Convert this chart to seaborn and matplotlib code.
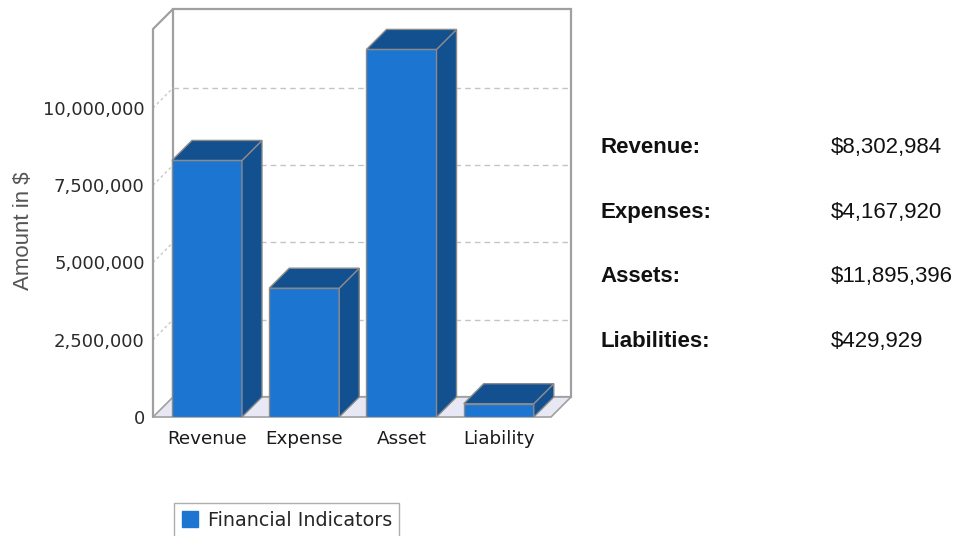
import matplotlib
matplotlib.use("Agg")
import matplotlib.pyplot as plt
import matplotlib.transforms as mtransforms
from matplotlib.patches import Polygon, Rectangle, Patch
from matplotlib.ticker import FuncFormatter
import seaborn as sns
import numpy as np

# data
categories = ["Revenue", "Expense", "Asset", "Liability"]
values = [8302984, 4167920, 11895396, 429929]
table_labels = ["Revenue:", "Expenses:", "Assets:", "Liabilities:"]
yticks = [0, 2500000, 5000000, 7500000, 10000000]
series_name = "Financial Indicators"

front = "#1c75d0"
dark = "#13508f"
edge = "#8a8a8a"
wall = "#a0a0a0"

sns.set_style("white")
plt.rcParams["font.family"] = ["DejaVu Sans"]

fig = plt.figure(figsize=(9.58, 5.36), dpi=100)
ax = fig.add_axes([153 / 958, (536 - 417) / 536, 398 / 958, 388 / 536])
ax.patch.set_visible(False)

sns.barplot(x=categories, y=values, color=front, saturation=1, width=0.72,
            edgecolor=edge, linewidth=1, ax=ax)
x0, x1 = -0.555, 3.537
ytop = 12.556e6
ax.set_xlim(x0, x1)
ax.set_ylim(0, ytop)
for s in ax.spines.values():
    s.set_visible(False)

# depth offset of 20 px
off = mtransforms.ScaledTranslation(0.2, 0.2, fig.dpi_scale_trans)
back = ax.transData + off
inv = ax.transData.inverted()


def deep(x, y):
    d = ax.transData.transform((x, y)) + np.array([20, 20])
    return inv.transform(d)


# back wall and floor
ax.add_patch(Rectangle((x0, 0), x1 - x0, ytop, transform=back, facecolor="white",
                       edgecolor=wall, lw=1.6, clip_on=False, zorder=0.2))
ax.add_patch(Polygon([(x0, 0), (x1, 0), deep(x1, 0), deep(x0, 0)], closed=True,
                     facecolor="#e8e8f4", edgecolor=wall, lw=1.2, clip_on=False, zorder=0.6))

for t in yticks[1:]:
    ax.plot([x0, x1], [t, t], transform=back, color="#c4c4c4", lw=1,
            ls=(0, (4, 3)), clip_on=False, zorder=0.4)
    p = deep(x0, t)
    ax.plot([x0, p[0]], [t, p[1]], color="#c8c8c8", lw=1, ls=(0, (2, 2)),
            clip_on=False, zorder=0.4)

# front-left axis line
tp = deep(x0, ytop)
ax.plot([x0, x0, tp[0]], [0, ytop, tp[1]], color=wall, lw=1.6, clip_on=False, zorder=0.7)

# 3d sides and tops of the bars
for bar in list(ax.patches):
    if not isinstance(bar, Rectangle) or bar.get_height() <= 0 or bar.get_facecolor()[3] == 0:
        continue
    if bar.get_width() > 1:
        continue
    bx, bw, bh = bar.get_x(), bar.get_width(), bar.get_height()
    bar.set_zorder(3)
    side = [(bx + bw, 0), (bx + bw, bh), deep(bx + bw, bh), deep(bx + bw, 0)]
    top = [(bx, bh), (bx + bw, bh), deep(bx + bw, bh), deep(bx, bh)]
    for poly in (side, top):
        ax.add_patch(Polygon(poly, closed=True, facecolor=dark, edgecolor=edge,
                             lw=1, clip_on=False, zorder=3))

ax.set_yticks(yticks)
ax.yaxis.set_major_formatter(FuncFormatter(lambda v, p: f"{int(v):,}"))
ax.tick_params(axis="y", length=4, width=1, color=wall, labelsize=13,
               labelcolor="#2a2a2a", pad=2)
ax.tick_params(axis="x", length=0, labelsize=13.2, labelcolor="#1a1a1a", pad=9)
ax.set_xlabel("")
ax.set_ylabel("Amount in $", fontsize=16, color="#555555", family=["Liberation Sans"])
ax.yaxis.set_label_coords(-0.30, 0.48)

# legend
fig.legend(handles=[Patch(facecolor=front, edgecolor=front, label=series_name)],
           loc="upper left", bbox_to_anchor=(174 / 958, 1 - 503 / 536),
           borderaxespad=0, fontsize=13.8, frameon=True, fancybox=False,
           edgecolor="#999999", handlelength=0.85, handleheight=0.85,
           handletextpad=0.5, borderpad=0.4)

# summary table on the right
for i, (lab, v) in enumerate(zip(table_labels, values)):
    yb = 1 - (153 + i * 64.7) / 536
    fig.text(600 / 958, yb, lab, fontsize=16, fontweight="bold", color="#111111",
             family=["Liberation Sans"], va="baseline")
    fig.text(831 / 958, yb, f"${v:,}", fontsize=16, color="#111111",
             family=["Liberation Sans"], va="baseline")

fig.savefig("out.png", dpi=100)
